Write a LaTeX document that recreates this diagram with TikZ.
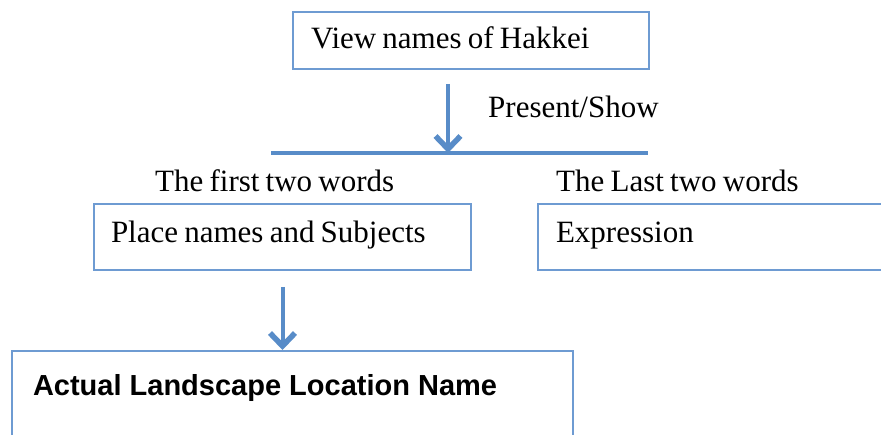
\documentclass[tikz,border=0pt]{standalone}
\usepackage{fontspec}
\setmainfont{Liberation Serif}[WordSpace=0.8]
\newfontfamily\headfont{Liberation Sans}
\usetikzlibrary{arrows.meta, positioning, calc}
\definecolor{linkblue}{RGB}{88,140,200}
\definecolor{boxblue}{RGB}{110,155,210}

\begin{document}
\begin{tikzpicture}[
        x=1pt, y=-1pt,
        box/.style={rectangle, draw=boxblue, line width=2pt, anchor=north west, inner ysep=0pt, align=flush left, font=\fontsize{31}{38}\selectfont},
        note/.style={anchor=base west, inner sep=0pt, font=\fontsize{31}{38}\selectfont},
        arrow/.style={draw=linkblue, line width=4pt, -{Straight Barb[length=13pt, width=25pt, line width=5.5pt]}}
        ]
        \useasboundingbox (0,0) rectangle (881,435);
        \clip (0,0) rectangle (881,435);

        \node[box, inner xsep=18pt, text width=320pt, text height=37pt, text depth=20pt] (view) at (292,11) {View names of Hakkei};
        \node[box, inner xsep=17pt, text width=343pt, text height=38.5pt, text depth=27.5pt] (places) at (93,203) {Place names and Subjects};
        \node[box, inner xsep=18pt, text width=367pt, text height=38.5pt, text depth=27.5pt] (expr) at (537,203) {Expression};
        \node[box, inner xsep=21pt, text width=519pt, text height=45pt, text depth=105pt, font=\headfont\bfseries\fontsize{29}{35}\selectfont] (actual) at (11,350) {Actual Landscape Location Name};

        \node[note] (present) at (488,118) {Present/Show};
        \node[note] (first) at (155,192) {The first two words};
        \node[note] (last) at (556,192) {The Last two words};

        \coordinate (barL) at (271,153);
        \coordinate (barR) at (648,153);
        \coordinate (hub) at (448,153);
        \draw[linkblue, line width=4pt] (barL) -- (barR);

        \draw[arrow] ([yshift=-14pt]view.south -| hub) -- (hub);
        \draw[arrow] ([yshift=-16pt]places.south) -- (actual.north -| places.south);
    \end{tikzpicture}
\end{document}
